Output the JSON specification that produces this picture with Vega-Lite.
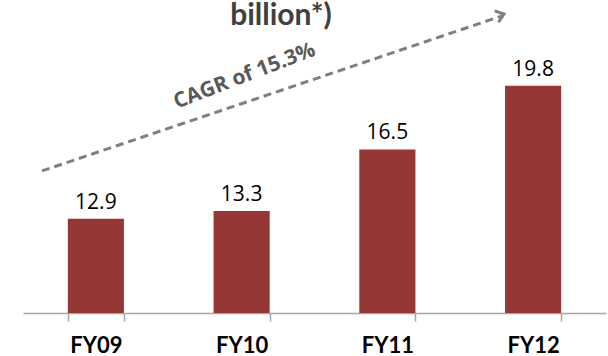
{
  "$schema": "https://vega.github.io/schema/vega-lite/v6.json",
  "width": 583,
  "height": 308,
  "autosize": {"type": "none"},
  "padding": {"left": 23, "top": 5, "right": 2, "bottom": 43},
  "background": "#ffffff",
  "config": {
    "view": {"stroke": null},
    "font": "Lato"
  },
  "datasets": {
    "revenue": [
      {"fy": "FY09", "value": 12.9},
      {"fy": "FY10", "value": 13.3},
      {"fy": "FY11", "value": 16.5},
      {"fy": "FY12", "value": 19.8}
    ]
  },
  "layer": [
    {
      "data": {"name": "revenue"},
      "encoding": {
        "x": {
          "field": "fy",
          "type": "nominal",
          "sort": null,
          "scale": {"paddingInner": 0.615, "paddingOuter": 0.3075},
          "axis": {
            "title": null,
            "labelAngle": 0,
            "labelFont": "Lato",
            "labelFontSize": 22,
            "labelFontWeight": "bold",
            "labelColor": "#000000",
            "labelPadding": 14,
            "tickBand": "extent",
            "tickSize": 8,
            "tickColor": "#a6a6a6",
            "tickWidth": 1.5,
            "domainColor": "#a6a6a6",
            "domainWidth": 1.5
          }
        },
        "y": {
          "field": "value",
          "type": "quantitative",
          "scale": {"domain": [8, 24], "zero": false, "nice": false},
          "axis": null
        }
      },
      "layer": [
        {
          "mark": {"type": "bar", "color": "#953735"},
          "encoding": {"y2": {"datum": 8}}
        },
        {
          "mark": {
            "type": "text",
            "baseline": "alphabetic",
            "dy": -10,
            "font": "Open Sans",
            "fontSize": 21,
            "color": "#000000"
          },
          "encoding": {"text": {"field": "value", "type": "quantitative", "format": ".1f"}}
        }
      ]
    },
    {
      "data": {"values": [{}]},
      "layer": [
        {
          "mark": {
            "type": "rule",
            "color": "#7f7f7f",
            "strokeWidth": 3,
            "strokeDash": [8, 5]
          },
          "encoding": {
            "x": {"datum": -0.37, "type": "quantitative", "scale": {"domain": [-0.5, 3.5], "nice": false, "zero": false}, "axis": null},
            "y": {"datum": 15.38, "type": "quantitative"},
            "x2": {"datum": 2.785},
            "y2": {"datum": 23.43}
          }
        },
        {
          "mark": {
            "type": "point",
            "shape": "M -1.3 -1 L 0 0 L -1.3 1",
            "filled": false,
            "stroke": "#7f7f7f",
            "strokeWidth": 3,
            "size": 144,
            "angle": -18.7,
            "opacity": 1
          },
          "encoding": {
            "x": {"datum": 2.8, "type": "quantitative"},
            "y": {"datum": 23.53, "type": "quantitative"}
          }
        },
        {
          "mark": {
            "type": "text",
            "text": "CAGR of 15.3%",
            "angle": 339,
            "font": "Open Sans",
            "fontSize": 21,
            "fontWeight": "bold",
            "color": "#595959",
            "baseline": "middle",
            "align": "center"
          },
          "encoding": {
            "x": {"datum": 1.02, "type": "quantitative"},
            "y": {"datum": 20.3, "type": "quantitative"}
          }
        },
        {
          "mark": {
            "type": "text",
            "text": "billion*)",
            "font": "Lato",
            "fontSize": 30,
            "fontWeight": "bold",
            "color": "#404040",
            "baseline": "alphabetic",
            "align": "center"
          },
          "encoding": {
            "x": {"datum": 1.27, "type": "quantitative"},
            "y": {"datum": 22.96, "type": "quantitative"}
          }
        }
      ]
    }
  ],
  "resolve": {"scale": {"x": "independent"}}
}
